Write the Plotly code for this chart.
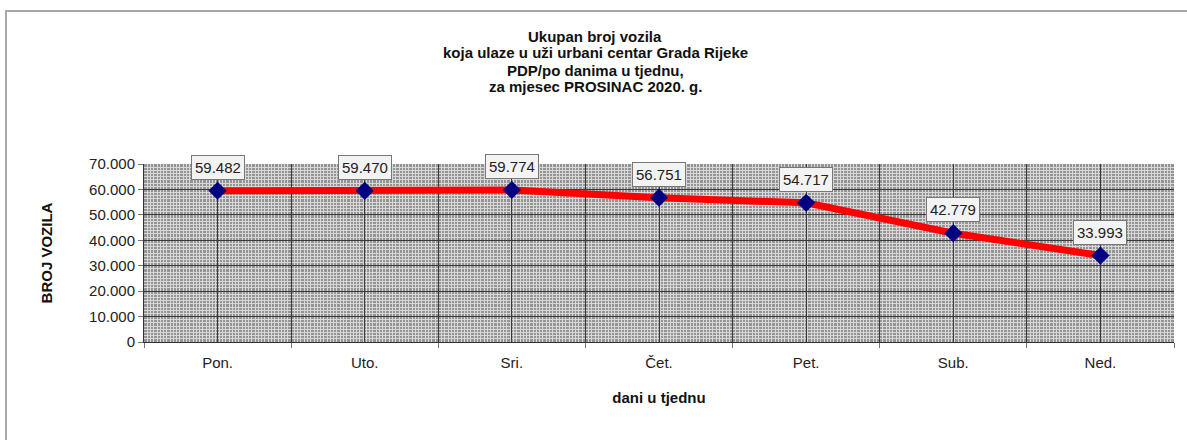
import plotly.graph_objects as go

days = ["Pon.", "Uto.", "Sri.", "Čet.", "Pet.", "Sub.", "Ned."]
vehicles = [59482, 59470, 59774, 56751, 54717, 42779, 33993]
label_text = ["59.482", "59.470", "59.774", "56.751", "54.717", "42.779", "33.993"]
y_ticks = [0, 10000, 20000, 30000, 40000, 50000, 60000, 70000]
y_tick_text = ["0", "10.000", "20.000", "30.000", "40.000", "50.000", "60.000", "70.000"]
title_lines = ["Ukupan broj vozila",
               "koja ulaze u uži urbani centar Grada Rijeke",
               "PDP/po danima u tjednu,",
               "za mjesec PROSINAC 2020. g."]

FONT = "Arial, Liberation Sans, sans-serif"
L, R, T, B = 144, 13, 164, 98
W, H = 1187, 440
PW, PH = W - L - R, H - T - B
x_idx = list(range(len(days)))
boundaries = [i - 0.5 for i in range(len(days) + 1)]

fig = go.Figure()
fig.add_trace(go.Scatter(
    x=x_idx, y=vehicles, mode="lines+markers",
    line=dict(color="#ff0000", width=7),
    marker=dict(symbol="diamond", color="#000080", size=14),
    hoverinfo="skip", showlegend=False,
))
fig.add_trace(go.Scatter(x=boundaries, y=[None] * len(boundaries), xaxis="x2",
                         showlegend=False, hoverinfo="skip"))

for xi, v, t in zip(x_idx, vehicles, label_text):
    fig.add_annotation(x=xi, y=v, text=t, showarrow=False, yanchor="bottom", yshift=11,
                       font=dict(family=FONT, size=15, color="#222"),
                       bgcolor="#f3f3f3", bordercolor="#777", borderwidth=1, borderpad=3)

title_centers = [37, 53, 70, 87]
for line, yc in zip(title_lines, title_centers):
    fig.add_annotation(xref="paper", yref="paper", x=(595 - L) / PW, y=(H - B - yc) / PH,
                       text="<b>" + line + "</b>", showarrow=False,
                       xanchor="center", yanchor="middle",
                       font=dict(family=FONT, size=15, color="#111"))

fig.update_layout(
    width=W, height=H,
    margin=dict(l=L, r=R, t=T, b=B, autoexpand=False),
    paper_bgcolor="white", plot_bgcolor="#949494",
    xaxis=dict(range=[-0.5, len(days) - 0.5], tickvals=x_idx, ticktext=days,
               showgrid=True, gridcolor="#3a3a3a", gridwidth=1, zeroline=False,
               ticks="", ticklabelstandoff=7,
               tickfont=dict(family=FONT, size=15, color="#222"),
               title=dict(text="<b>dani u tjednu</b>", font=dict(family=FONT, size=15, color="#111"), standoff=22),
               showline=True, linecolor="#333", linewidth=1,
               minor=dict(tickmode="linear", tick0=-0.5, dtick=1 / 45, showgrid=True,
                          gridcolor="#d8d8d8", gridwidth=1, ticks="", ticklen=0)),
    xaxis2=dict(overlaying="x", side="bottom", range=[-0.5, len(days) - 0.5],
                tickvals=boundaries, showticklabels=False, showgrid=True,
                gridcolor="#3a3a3a", gridwidth=1, ticks="outside", ticklen=5,
                tickcolor="#777", zeroline=False,
                minor=dict(ticks="", showgrid=False)),
    yaxis=dict(range=[0, 70000], tickvals=y_ticks, ticktext=y_tick_text,
               showgrid=True, gridcolor="#3a3a3a", gridwidth=1, zeroline=False,
               ticks="outside", ticklen=5, tickcolor="#777",
               showline=True, linecolor="#333", linewidth=1,
               tickfont=dict(family=FONT, size=15, color="#222"),
               title=dict(text="<b>BROJ VOZILA</b>", font=dict(family=FONT, size=15, color="#111"), standoff=32),
               minor=dict(tickmode="linear", tick0=0, dtick=1250, showgrid=True,
                          gridcolor="#d8d8d8", gridwidth=1, ticks="", ticklen=0)),
    shapes=[dict(type="rect", xref="paper", yref="paper",
                 x0=(6 - L) / PW, x1=(W + 20 - L) / PW, y0=-(B + 30) / PH, y1=(H - B - 11) / PH,
                 line=dict(color="#a8a8a8", width=2), fillcolor="rgba(0,0,0,0)", layer="below")],
)

fig.write_html("out.html", config={"displayModeBar": False},
               post_script="document.body.style.margin='0';")
